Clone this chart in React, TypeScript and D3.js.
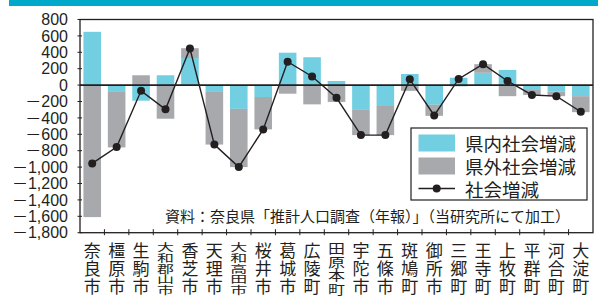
import React from 'react';
import * as d3 from 'd3';

// 市町村名
const cities = [
	'奈良市', '橿原市', '生駒市', '大和郡山市', '香芝市', '天理市', '大和高田市', '桜井市', '葛城市', '広陵町',
	'田原本町', '宇陀市', '五條市', '斑鳩町', '御所市', '三郷町', '王寺町', '上牧町', '平群町', '河合町', '大淀町',
];
// 県内社会増減
const inner = [650, -75, -190, 120, 330, -75, -290, -145, 395, 340, 50, -295, -255, 135, -240, 90, 150, 185, -60, -80, -135];
// 県外社会増減
const outer = [-1610, -685, 120, -410, 120, -650, -710, -395, -105, -235, -205, -315, -355, -70, -135, -15, 105, -135, -60, -55, -195];
// 社会増減
const total = [-955, -755, -70, -295, 445, -725, -1000, -540, 285, 105, -155, -610, -610, 70, -370, 75, 255, 50, -120, -135, -325];

const yTicks = [800, 600, 400, 200, 0, -200, -400, -600, -800, -1000, -1200, -1400, -1600, -1800];
const legendLabels = ['県内社会増減', '県外社会増減', '社会増減'];
const sourceText = '資料：奈良県「推計人口調査（年報）」（当研究所にて加工）';

const CYAN = '#72cfe1';
const GRAY = '#a8a9ac';
const JP = '"Noto Sans CJK JP", sans-serif';
const NUM = '"Liberation Sans", "Noto Sans CJK JP", sans-serif';

const fmt = (v: number) => (v < 0 ? '－' : '') + d3.format(',')(Math.abs(v));

const App: React.FC = () => {
	const width = 598;
	const height = 296;
	const left = 80;
	const right = 593;
	const top = 19.5;
	const bottom = 232.7;

	const x = d3.scaleBand<string>()
		.domain(cities)
		.range([left, right])
		.paddingInner(0.28)
		.paddingOuter(0.14);

	const y = d3.scaleLinear()
		.domain([-1800, 800])
		.range([bottom, top]);

	const rows = cities.map((c, i) => ({ city: c, inner: inner[i], outer: outer[i] }));
	const series = d3.stack<any>()
		.keys(['inner', 'outer'])
		.offset(d3.stackOffsetDiverging)(rows);
	const colors: Record<string, string> = { inner: CYAN, outer: GRAY };

	const line = d3.line<number>()
		.x((_, i) => (x(cities[i]) as number) + x.bandwidth() / 2)
		.y(d => y(d));

	const step = x.step();
	const boundaries = d3.range(1, cities.length).map(i => left + step * i);

	return (
		<svg width={width} height={height} style={{ position: 'absolute', left: 0, top: 0, background: '#fff' }}>
			<rect x={9} y={0} width={589} height={6} fill="#00a9c9" />

			{series.map(s => (
				<g key={s.key} fill={colors[s.key]}>
					{s.map((d, i) => (
						<rect key={i}
							x={x(cities[i])}
							width={x.bandwidth()}
							y={y(Math.max(d[0], d[1]))}
							height={Math.abs(y(d[0]) - y(d[1]))} />
					))}
				</g>
			))}

			{/* frame */}
			<rect x={left} y={top} width={right - left} height={bottom - top} fill="none" stroke="#231f20" strokeWidth={1.3} />
			<line x1={left} x2={right} y1={y(0)} y2={y(0)} stroke="#231f20" strokeWidth={1.6} />

			{/* y axis */}
			{yTicks.map(t => (
				<g key={t}>
					<line x1={left - 2.5} x2={left + 2} y1={y(t)} y2={y(t)} stroke="#231f20" strokeWidth={1} />
					<text x={68} y={y(t)} dy="0.36em" textAnchor="end" fontFamily={NUM} fontSize={16} fill="#231f20">{fmt(t)}</text>
				</g>
			))}

			{/* x axis ticks */}
			{boundaries.map((b, i) => (
				<line key={i} x1={b} x2={b} y1={bottom - 3.5} y2={bottom + 2.5} stroke="#231f20" strokeWidth={1} />
			))}

			{/* x labels, vertical text (long names squeezed) */}
			{cities.map(c => {
				const n = c.length;
				const k = n > 3 ? 3 / n : 1;
				const cx = (x(c) as number) + x.bandwidth() / 2;
				return (
					<g key={c} transform={`translate(${cx},242) scale(1,${k})`}>
						<text x={0} y={0} writingMode="vertical-rl" fontFamily={JP} fontSize={17}
							letterSpacing={1} fill="#231f20">{c}</text>
					</g>
				);
			})}

			{/* social change line */}
			<path d={line(total) as string} fill="none" stroke="#231f20" strokeWidth={1.4} />
			{total.map((v, i) => (
				<circle key={i} cx={(x(cities[i]) as number) + x.bandwidth() / 2} cy={y(v)} r={4} fill="#231f20" />
			))}

			{/* legend */}
			<g>
				<rect x={411} y={128} width={176} height={72} fill="#fff" stroke="#231f20" strokeWidth={1.2} />
				<rect x={418.5} y={134.5} width={36.5} height={17} fill={CYAN} />
				<rect x={418.5} y={157.5} width={36.5} height={17} fill={GRAY} />
				<line x1={418.5} x2={455} y1={188.5} y2={188.5} stroke="#231f20" strokeWidth={1.4} />
				<circle cx={436.7} cy={188.5} r={4} fill="#231f20" />
				<text fontFamily={JP} fontSize={18.5} fill="#231f20">
					{legendLabels.map((l, i) => (
						<tspan key={l} x={465} y={150.5 + i * 23}>{l}</tspan>
					))}
				</text>
			</g>

			<text x={165} y={222} fontFamily={JP} fontSize={15} fill="#231f20">{sourceText}</text>
		</svg>
	);
};

export default App;
